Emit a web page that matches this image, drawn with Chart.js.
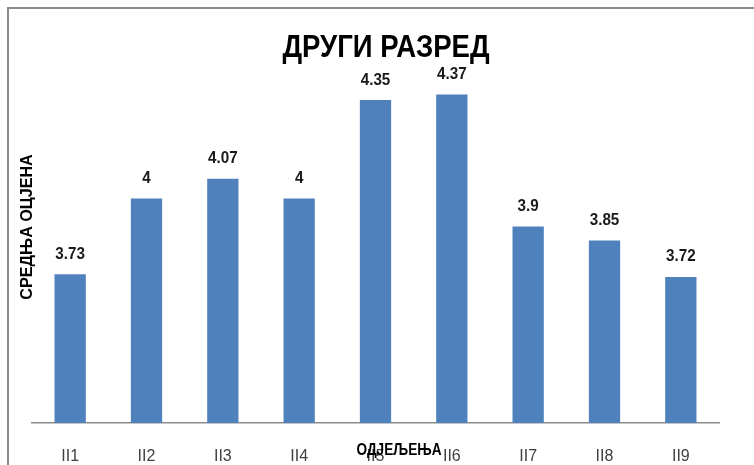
<!DOCTYPE html>
<html>
<head>
<meta charset="utf-8">
<script src="https://cdn.jsdelivr.net/npm/chart.js@4"></script>
<style>
html,body{margin:0;padding:0;background:#fff;overflow:hidden;}
#wrap{position:relative;width:754px;height:465px;}
#frame{position:absolute;left:7px;top:7px;width:800px;height:500px;border-left:2px solid #8c8c8c;border-top:2px solid #8c8c8c;pointer-events:none;}
canvas{position:absolute;left:0;top:0;}
</style>
</head>
<body>
<div id="wrap">
<canvas id="c" width="754" height="465"></canvas>
<div id="frame"></div>
</div>
<script>
const categories = ['II1','II2','II3','II4','II5','II6','II7','II8','II9'];
const values = [3.73, 4, 4.07, 4, 4.35, 4.37, 3.9, 3.85, 3.72];
const chartTitle = 'ДРУГИ РАЗРЕД';
const xTitle = 'ОДЈЕЉЕЊА';
const yTitle = 'СРЕДЊА ОЦЈЕНА';
const yMin = 3.2, yMax = 4.5;

const FONT = "'Liberation Sans',Arial,sans-serif";

function narrowText(ctx, text, x, y, sx) {
  ctx.save();
  ctx.translate(x, y);
  ctx.scale(sx, 1);
  ctx.fillText(text, 0, 0);
  ctx.restore();
}

const textPlugin = {
  id: 'texts',
  afterDatasetsDraw(chart) {
    const ctx = chart.ctx;
    const meta = chart.getDatasetMeta(0);
    ctx.save();
    ctx.fillStyle = '#1a1a1a';
    ctx.font = "bold 16px " + FONT;
    ctx.textAlign = 'center';
    ctx.textBaseline = 'middle';
    meta.data.forEach((bar, i) => {
      narrowText(ctx, String(values[i]), bar.x, bar.y - 20, 0.95);
    });
    ctx.restore();
  },
  afterDraw(chart) {
    const ctx = chart.ctx;
    ctx.save();
    ctx.fillStyle = '#000';
    ctx.textAlign = 'center';
    ctx.textBaseline = 'middle';
    ctx.font = "bold 32px " + FONT;
    narrowText(ctx, chartTitle, 386, 48, 0.86);
    ctx.font = "bold 16px " + FONT;
    narrowText(ctx, xTitle, 399, 451, 0.85);
    ctx.translate(27, 227);
    ctx.rotate(-Math.PI/2);
    ctx.font = "bold 17px " + FONT;
    narrowText(ctx, yTitle, 0, 0, 0.95);
    ctx.restore();
  }
};

new Chart(document.getElementById('c'), {
  type: 'bar',
  data: {
    labels: categories,
    datasets: [{
      data: values,
      backgroundColor: '#4F81BD',
      borderWidth: 0,
      barPercentage: 0.41,
      categoryPercentage: 1.0
    }]
  },
  options: {
    responsive: false,
    animation: false,
    layout: { padding: { left: 32, right: 35, top: 58, bottom: 0 } },
    plugins: { legend: { display: false }, title: { display: false }, tooltip: { enabled: false } },
    scales: {
      x: {
        afterFit(scale) { scale.height = 42; },
        grid: { display: false, drawTicks: false },
        border: { display: true, color: '#8c8c8c', width: 1.5 },
        ticks: { color: '#404040', font: { family: FONT, size: 16 }, padding: 24 }
      },
      y: {
        display: false,
        min: yMin,
        max: yMax
      }
    }
  },
  plugins: [textPlugin]
});
</script>
</body>
</html>
